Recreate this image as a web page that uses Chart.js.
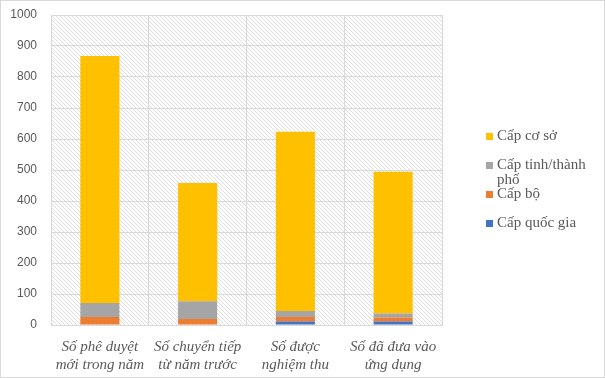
<!DOCTYPE html>
<html>
<head>
<meta charset="utf-8">
<script src="https://cdn.jsdelivr.net/npm/chart.js@4"></script>
<style>
  html, body { margin: 0; padding: 0; background: #fff; }
  #wrap { position: relative; width: 605px; height: 378px; }
  #legend { position: absolute; left: 486px; top: 128px; font-family: "Liberation Serif", serif; font-size: 15px; color: #595959; }
  .item { position: relative; height: 29px; width: 110px; }
  .box { position: absolute; left: 0; top: 5px; width: 7px; height: 7px; }
  .txt { position: absolute; left: 11px; top: 0; width: 96px; line-height: 15px; }
</style>
</head>
<body>
<div id="wrap">
  <canvas id="chart" width="605" height="378"></canvas>
  <div id="legend"></div>
</div>
<script>
const categories = [
    ['Số phê duyệt', 'mới trong năm'],
    ['Số chuyển tiếp', 'từ năm trước'],
    ['Số được', 'nghiệm thu'],
    ['Số đã đưa vào', 'ứng dụng']
];
const seriesNames = ['Cấp quốc gia', 'Cấp bộ', 'Cấp tỉnh/thành phố', 'Cấp cơ sở'];
const quocGia = [0, 0, 11, 11];
const capBo = [26, 19, 15, 13];
const tinhThanh = [45, 58, 19, 13];
const coSo = [797, 381, 578, 457];
const seriesColors = ['#4472C4', '#ED7D31', '#A5A5A5', '#FFC000'];
const yTicks = [0, 100, 200, 300, 400, 500, 600, 700, 800, 900, 1000];

// diagonal hatch for the plot area
function makeHatch() {
    const c = document.createElement('canvas');
    c.width = 8; c.height = 8;
    const g = c.getContext('2d');
    g.fillStyle = '#ffffff';
    g.fillRect(0, 0, 8, 8);
    g.fillStyle = '#dedede';
    for (let y = 0; y < 8; y++) {
        for (let x = 0; x < 8; x++) {
            if ((x - y + 8) % 4 === 0) g.fillRect(x, y, 1, 1);
        }
    }
    return c;
}

const hatchPlugin = {
    id: 'hatch',
    beforeDraw(chart) {
        const { ctx, chartArea: a } = chart;
        ctx.save();
        ctx.fillStyle = ctx.createPattern(makeHatch(), 'repeat');
        ctx.fillRect(a.left, a.top, a.right - a.left, a.bottom - a.top);
        ctx.restore();
    },
    afterDraw(chart) {
        const ctx = chart.ctx;
        ctx.save();
        ctx.strokeStyle = '#d9d9d9';
        ctx.lineWidth = 1;
        ctx.strokeRect(0.5, 0.5, chart.width - 1, chart.height - 1);
        ctx.restore();
    }
};

const allData = [quocGia, capBo, tinhThanh, coSo];

const chart = new Chart(document.getElementById('chart'), {
    type: 'bar',
    data: {
        labels: categories,
        datasets: seriesNames.map((name, i) => ({
            label: name,
            data: allData[i],
            backgroundColor: seriesColors[i],
            barPercentage: 0.4,
            categoryPercentage: 1
        }))
    },
    options: {
        responsive: false,
        animation: false,
        layout: { padding: { top: 15, right: 163, left: 10, bottom: 0 } },
        plugins: { legend: { display: false }, tooltip: { enabled: false } },
        scales: {
            x: {
                stacked: true,
                grid: { color: '#d9d9d9', drawTicks: false },
                border: { color: '#d9d9d9' },
                afterFit(axis) { axis.height = 53; },
                ticks: {
                    color: '#595959',
                    padding: 13,
                    maxRotation: 0,
                    font: { family: 'Liberation Serif', style: 'italic', size: 15, lineHeight: '18px' }
                }
            },
            y: {
                stacked: true,
                min: 0,
                max: 1000,
                afterBuildTicks(axis) { axis.ticks = yTicks.map(v => ({ value: v })); },
                afterFit(axis) { axis.width = 41; axis.paddingTop = 0; axis.paddingBottom = 0; },
                grid: { color: '#d9d9d9', drawTicks: false },
                border: { color: '#d9d9d9' },
                ticks: {
                    color: '#595959',
                    padding: 14,
                    callback: v => String(v),
                    font: { family: 'Liberation Sans', size: 12 }
                }
            }
        }
    },
    plugins: [hatchPlugin]
});

// legend, top series first
const legend = document.getElementById('legend');
for (let i = seriesNames.length - 1; i >= 0; i--) {
    const item = document.createElement('div');
    item.className = 'item';
    item.innerHTML = `<span class="box" style="background:${seriesColors[i]}"></span><span class="txt">${seriesNames[i]}</span>`;
    legend.appendChild(item);
}
</script>
</body>
</html>
